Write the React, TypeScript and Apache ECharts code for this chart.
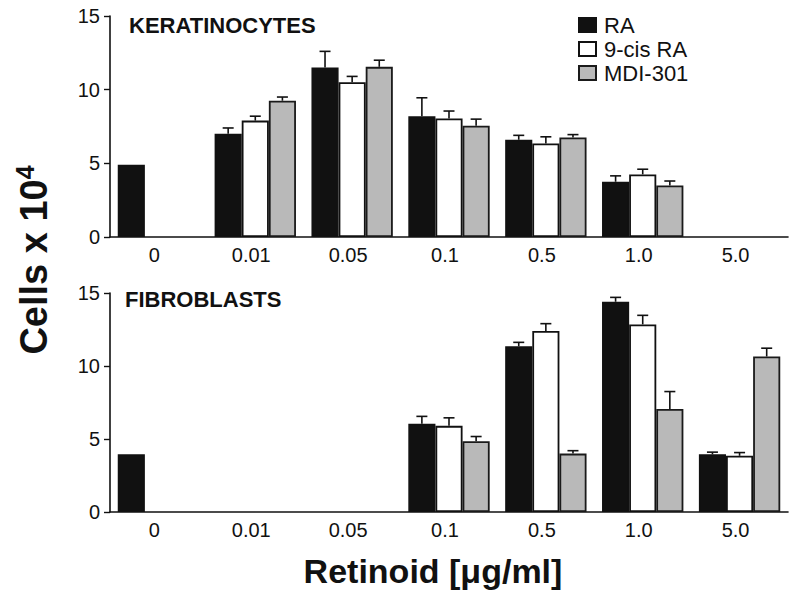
import React, { useEffect, useRef } from "react";
import * as echarts from "echarts";

const categories = ["0", "0.01", "0.05", "0.1", "0.5", "1.0", "5.0"];
const seriesNames = ["RA", "9-cis RA", "MDI-301"];

// Keratinocytes (cells x 10^4)
const keraRA = [4.9, 7.0, 11.5, 8.2, 6.6, 3.75, null];
const keraRAErr = [null, 0.4, 1.1, 1.25, 0.3, 0.4, null];
const keraCis = [null, 7.9, 10.5, 8.05, 6.35, 4.25, null];
const keraCisErr = [null, 0.3, 0.4, 0.5, 0.45, 0.35, null];
const keraMDI = [null, 9.25, 11.55, 7.55, 6.75, 3.5, null];
const keraMDIErr = [null, 0.25, 0.45, 0.45, 0.2, 0.3, null];

// Fibroblasts (cells x 10^4)
const fibroRA = [3.95, null, null, 6.05, 11.35, 14.4, 3.95];
const fibroRAErr = [null, null, null, 0.5, 0.27, 0.3, 0.15];
const fibroCis = [null, null, null, 5.9, 12.4, 12.85, 3.85];
const fibroCisErr = [null, null, null, 0.55, 0.5, 0.62, 0.22];
const fibroMDI = [null, null, null, 4.85, 4.0, 7.05, 10.65];
const fibroMDIErr = [null, null, null, 0.32, 0.2, 1.2, 0.57];

const yTicks = [0, 5, 10, 15];

const FONT = "'Liberation Sans', Arial, Helvetica, sans-serif";
const BAR_GAP_CAT = 0.16;

const barStyles = [
  { color: "#111111", borderColor: "#111111", borderWidth: 1.5 },
  { color: "#ffffff", borderColor: "#111111", borderWidth: 1.8 },
  { color: "#b9b9b9", borderColor: "#1a1a1a", borderWidth: 1.8 },
];

function errorSeries(name: string, idx: number, values: (number | null)[], errs: (number | null)[], gridIdx: number) {
  const data: any[] = [];
  values.forEach((v, i) => {
    const e = errs[i];
    if (v != null && e != null) data.push([i, v, e]);
  });
  return {
    type: "custom",
    name,
    xAxisIndex: gridIdx,
    yAxisIndex: gridIdx,
    silent: true,
    z: 1,
    encode: { x: 0, y: 1 },
    data,
    renderItem: (params: any, api: any) => {
      const cat = api.value(0);
      const val = api.value(1);
      const err = api.value(2);
      const band = api.size([1, 0])[0];
      const barW = (band * (1 - BAR_GAP_CAT)) / 3;
      const offset = (idx - 1) * barW;
      const p1 = api.coord([cat, val]);
      const p2 = api.coord([cat, val + err]);
      const x = p1[0] + offset;
      const capHalf = 5.5;
      const style = { stroke: "#111", lineWidth: 1.6 };
      return {
        type: "group",
        children: [
          { type: "line", shape: { x1: x, y1: p1[1], x2: x, y2: p2[1] }, style },
          { type: "line", shape: { x1: x - capHalf, y1: p2[1], x2: x + capHalf, y2: p2[1] }, style },
        ],
      };
    },
  };
}

function barSeries(name: string, idx: number, values: (number | null)[], gridIdx: number) {
  return {
    type: "bar",
    name,
    xAxisIndex: gridIdx,
    yAxisIndex: gridIdx,
    barGap: "0%",
    barCategoryGap: BAR_GAP_CAT * 100 + "%",
    itemStyle: barStyles[idx],
    z: 2,
    data: values,
  };
}

export default function App() {
  const ref = useRef<HTMLDivElement>(null);
  useEffect(() => {
    document.body.style.margin = "0";
    if (!ref.current) return;
    const chart = echarts.init(ref.current, undefined, { renderer: "svg" });

    const xAxisCommon = {
      type: "category",
      data: categories,
      axisLine: { show: true, lineStyle: { color: "#111", width: 1.6 } },
      axisTick: { show: false },
      axisLabel: { fontSize: 20, color: "#111", margin: 8, fontFamily: FONT, padding: [0, 8, 0, 0] },
      splitLine: { show: false },
    };
    const yAxisCommon = {
      type: "value",
      min: yTicks[0],
      max: yTicks[yTicks.length - 1],
      interval: 5,
      axisLine: { show: true, lineStyle: { color: "#111", width: 1.6 } },
      axisTick: { show: true, inside: false, length: 6, lineStyle: { color: "#111", width: 1.4 } },
      axisLabel: { fontSize: 20, color: "#111", margin: 10, fontFamily: FONT },
      splitLine: { show: false },
    };

    const option: any = {
      animation: false,
      backgroundColor: "#ffffff",
      textStyle: { fontFamily: FONT },
      grid: [
        { left: 110, width: 678, top: 16, height: 221 },
        { left: 110, width: 678, top: 293, height: 219 },
      ],
      xAxis: [
        { ...xAxisCommon, gridIndex: 0 },
        { ...xAxisCommon, gridIndex: 1 },
      ],
      yAxis: [
        { ...yAxisCommon, gridIndex: 0 },
        { ...yAxisCommon, gridIndex: 1 },
      ],
      legend: {
        data: seriesNames,
        orient: "vertical",
        left: 578,
        top: 14,
        padding: 0,
        icon: "rect",
        itemWidth: 17,
        itemHeight: 14,
        itemGap: 2,
        selectedMode: false,
        textStyle: { fontSize: 22, color: "#111", fontFamily: FONT, padding: [0, 0, 0, 3] },
      },
      graphic: [
        {
          type: "text",
          left: 129,
          top: 14,
          style: { text: "KERATINOCYTES", fontSize: 22, fontWeight: "bold", fill: "#111", fontFamily: FONT },
        },
        {
          type: "text",
          left: 125,
          top: 288,
          style: { text: "FIBROBLASTS", fontSize: 22, fontWeight: "bold", fill: "#111", fontFamily: FONT },
        },
        {
          type: "text",
          x: 433,
          y: 571,
          style: {
            text: "Retinoid [μg/ml]",
            fontSize: 34,
            fontWeight: "bold",
            fill: "#111",
            fontFamily: FONT,
            align: "center",
            verticalAlign: "middle",
          },
        },
        {
          type: "text",
          x: 34,
          y: 260,
          rotation: Math.PI / 2,
          style: {
            text: "{m|Cells x 10}{s|4}",
            align: "center",
            verticalAlign: "middle",
            fill: "#111",
            rich: {
              m: { fontSize: 38, fontWeight: "bold", fontFamily: FONT, lineHeight: 44, fill: "#111" },
              s: { fontSize: 25, fontWeight: "bold", fontFamily: FONT, lineHeight: 24, verticalAlign: "top", fill: "#111" },
            },
          },
        },
      ],
      series: [
        barSeries(seriesNames[0], 0, keraRA, 0),
        barSeries(seriesNames[1], 1, keraCis, 0),
        barSeries(seriesNames[2], 2, keraMDI, 0),
        barSeries(seriesNames[0], 0, fibroRA, 1),
        barSeries(seriesNames[1], 1, fibroCis, 1),
        barSeries(seriesNames[2], 2, fibroMDI, 1),
        errorSeries("err-k-ra", 0, keraRA, keraRAErr, 0),
        errorSeries("err-k-cis", 1, keraCis, keraCisErr, 0),
        errorSeries("err-k-mdi", 2, keraMDI, keraMDIErr, 0),
        errorSeries("err-f-ra", 0, fibroRA, fibroRAErr, 1),
        errorSeries("err-f-cis", 1, fibroCis, fibroCisErr, 1),
        errorSeries("err-f-mdi", 2, fibroMDI, fibroMDIErr, 1),
      ],
    };
    chart.setOption(option);
    return () => chart.dispose();
  }, []);
  return <div ref={ref} style={{ width: 795, height: 599 }} />;
}
